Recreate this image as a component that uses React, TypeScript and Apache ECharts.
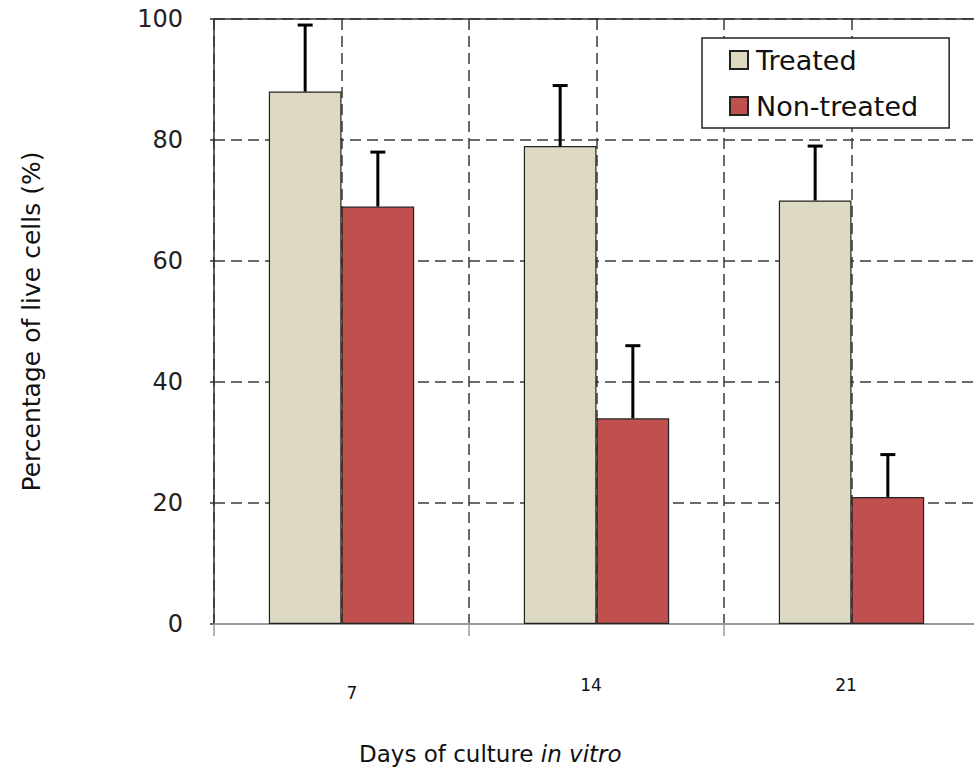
import React, { useEffect, useRef } from "react";
import * as echarts from "echarts";

const categories = ["7", "14", "21"];
const seriesNames = ["Treated", "Non-treated"];
const treatedValues = [88, 79, 70];
const treatedUpper = [99, 89, 79];
const nonTreatedValues = [69, 34, 21];
const nonTreatedUpper = [78, 46, 28];
const yTicks = [0, 20, 40, 60, 80, 100];

const FONT = "DejaVu Sans";
const CAT_GAP = 0.43;

export default function App() {
  const ref = useRef<HTMLDivElement>(null);
  useEffect(() => {
    document.body.style.margin = "0";
    document.body.style.overflow = "hidden";
    const chart = echarts.init(ref.current!, null, { renderer: "svg" });

    const errData: number[][] = [];
    categories.forEach((_, i) => {
      errData.push([i, treatedValues[i], treatedUpper[i], 0]);
      errData.push([i, nonTreatedValues[i], nonTreatedUpper[i], 1]);
    });

    const option: any = {
      animation: false,
      backgroundColor: "#ffffff",
      textStyle: { fontFamily: FONT },
      grid: {
        left: 214,
        width: 765,
        top: 19,
        height: 605,
        containLabel: false,
        outerBoundsMode: "none",
      },
      title: {
        left: 354,
        top: 737,
        text: "{n|Days of culture }{i|in vitro}",
        textStyle: {
          fontWeight: "normal",
          fontSize: 23,
          fontFamily: FONT,
          rich: {
            n: { fontFamily: FONT, fontSize: 23, color: "#111", fontWeight: "normal" },
            i: { fontFamily: FONT, fontSize: 23, color: "#111", fontStyle: "italic", fontWeight: "normal" },
          },
        },
      },
      legend: {
        data: seriesNames,
        orient: "vertical",
        left: 702,
        top: 38,
        padding: [7, 31, 7, 27],
        itemGap: 16,
        itemWidth: 18,
        itemHeight: 18,
        icon: "rect",
        backgroundColor: "#ffffff",
        borderColor: "#222",
        borderWidth: 1.5,
        borderRadius: 0,
        textStyle: {
          fontFamily: FONT,
          fontSize: 27,
          color: "#111",
          lineHeight: 30,
          padding: [0, 0, 0, 3],
        },
      },
      xAxis: [
        {
          type: "category",
          data: categories,
          position: "bottom",
          axisLine: { show: true, lineStyle: { color: "#9a9a9a", width: 2 } },
          axisTick: { show: true, length: 12, lineStyle: { color: "#9a9a9a", width: 1.5 } },
          splitLine: { show: false },
          axisLabel: {
            margin: 52,
            fontSize: 17,
            fontFamily: FONT,
            color: "#111",
            formatter: (v: string) => (v === "7" ? "{a|" + v + "}" : "{b|" + v + "}"),
            rich: {
              a: { fontFamily: FONT, fontSize: 17, color: "#111", padding: [8, 0, 0, 21] },
              b: { fontFamily: FONT, fontSize: 17, color: "#111", padding: [0, 11, 0, 0] },
            },
          },
        },
        {
          type: "value",
          position: "top",
          min: 0,
          max: 6,
          interval: 1,
          axisLine: { show: true, onZero: false, lineStyle: { color: "#333", width: 1.5 } },
          axisTick: { show: false },
          axisLabel: { show: false },
          splitLine: {
            show: true,
            lineStyle: { color: "#3a3a3a", width: 1.5, type: [11, 6] },
          },
        },
      ],
      yAxis: {
        type: "value",
        min: yTicks[0],
        max: yTicks[yTicks.length - 1],
        interval: 20,
        name: "Percentage of live cells (%)",
        nameLocation: "middle",
        nameGap: 170,
        nameTextStyle: { fontFamily: FONT, fontSize: 25, color: "#111" },
        axisLine: { show: true, lineStyle: { color: "#333", width: 1.5 } },
        axisTick: { show: true, length: 4, lineStyle: { color: "#333", width: 1.5 } },
        axisLabel: { margin: 31, fontFamily: FONT, fontSize: 24, color: "#222" },
        splitLine: {
          show: true,
          lineStyle: { color: "#3a3a3a", width: 1.5, type: [11, 6] },
        },
      },
      series: [
        {
          name: seriesNames[0],
          type: "bar",
          data: treatedValues,
          barGap: "0%",
          barCategoryGap: CAT_GAP * 100 + "%",
          itemStyle: { color: "#DDD9C3", borderColor: "#222", borderWidth: 1.2 },
        },
        {
          name: seriesNames[1],
          type: "bar",
          data: nonTreatedValues,
          barGap: "0%",
          barCategoryGap: CAT_GAP * 100 + "%",
          itemStyle: { color: "#C0504D", borderColor: "#222", borderWidth: 1.2 },
        },
        {
          name: "errors",
          type: "custom",
          z: 5,
          data: errData,
          renderItem: (params: any, api: any) => {
            const cat = api.value(0);
            const val = api.value(1);
            const up = api.value(2);
            const side = api.value(3);
            const base = api.coord([cat, val]);
            const top = api.coord([cat, up]);
            const band = api.size([1, 0])[0];
            const bw = (band * (1 - CAT_GAP)) / 2;
            const x = base[0] + (side === 0 ? -bw / 2 : bw / 2);
            return {
              type: "group",
              children: [
                {
                  type: "line",
                  shape: { x1: x, y1: base[1], x2: x, y2: top[1] },
                  style: { stroke: "#000", lineWidth: 3 },
                },
                {
                  type: "line",
                  shape: { x1: x - 7.5, y1: top[1], x2: x + 7.5, y2: top[1] },
                  style: { stroke: "#000", lineWidth: 3 },
                },
              ],
            };
          },
        },
      ],
    };
    chart.setOption(option);
    return () => chart.dispose();
  }, []);
  return <div ref={ref} style={{ width: 974, height: 776 }} />;
}
